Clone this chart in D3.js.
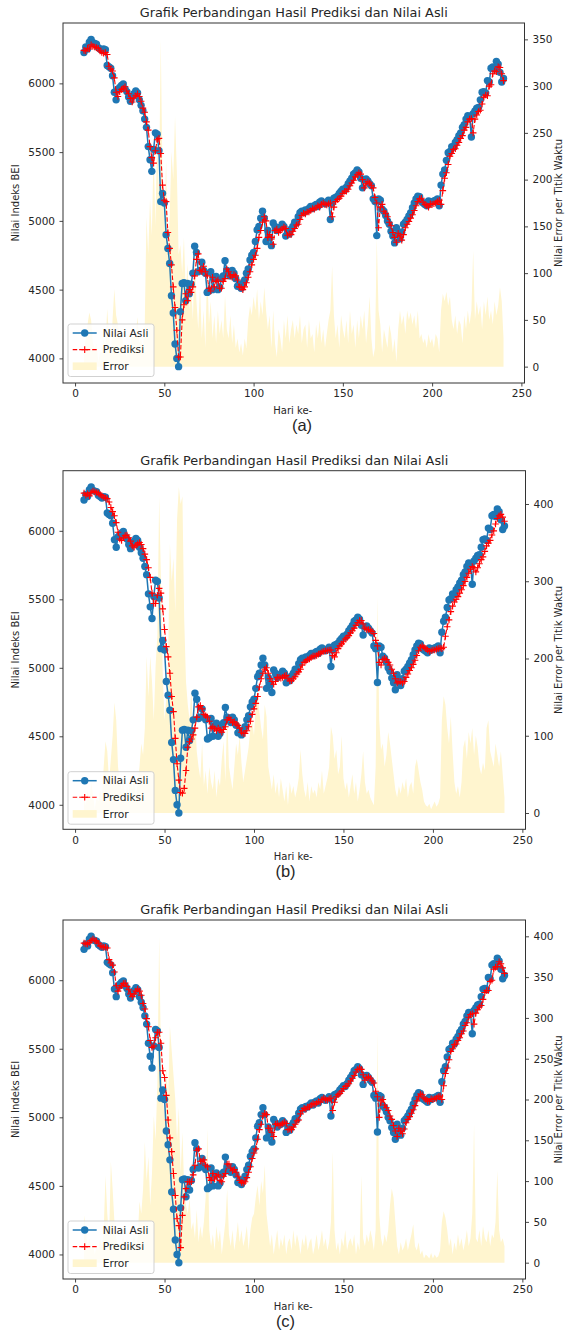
<!DOCTYPE html>
<html>
<head>
<meta charset="utf-8">
<script src="https://cdn.jsdelivr.net/npm/d3@7"></script>
<style>
  body { margin: 0; background: #fff; }
  text { font-family: "DejaVu Sans", sans-serif; fill: #262626; }
</style>
</head>
<body>
<svg id="chart" width="565" height="1335"></svg>
<script>
// hari ke- (day index on the x axis)
const hari = d3.range(5, 241);

// nilai asli (same in all three panels), days 5..240
const nilaiAsli = [
  6225, 6265, 6250, 6300, 6320, 6295, 6290, 6285, 6260, 6250,
  6240, 6250, 6245, 6130, 6120, 6110, 6055, 5935, 5880, 5955,
  5970, 5985, 5995, 5960, 5940, 5900, 5870, 5905, 5925, 5945,
  5930, 5880, 5840, 5800, 5740, 5680, 5540, 5445, 5360, 5520,
  5640, 5630, 5510, 5140, 5200, 5130, 4900, 4800, 4690, 4455,
  4330, 4105, 4000, 3940, 4340, 4545, 4550, 4420, 4545, 4470,
  4540, 4620, 4815, 4770, 4630, 4640, 4700, 4640, 4620, 4480,
  4490, 4630, 4500, 4580, 4595, 4500, 4520, 4580, 4600, 4710,
  4640, 4620, 4600, 4640, 4620, 4580, 4525, 4540, 4510, 4545,
  4570, 4620, 4650, 4715, 4750, 4770, 4850, 4935, 4960, 5020,
  5070, 5020, 4850, 4930, 4880, 4820, 4985, 4960, 4930, 4950,
  4950, 4975, 4960, 4890, 4920, 4905, 4940, 4960, 4990, 4985,
  5030, 5060, 5070, 5060, 5080, 5075, 5090, 5105, 5090, 5110,
  5120, 5105, 5135, 5145, 5130, 5125, 5135, 5150, 5010, 5130,
  5165, 5170, 5180, 5200, 5215, 5230, 5225, 5245, 5270, 5290,
  5310, 5340, 5350, 5370, 5355, 5310, 5240, 5300, 5305, 5290,
  5270, 5255, 5160, 5140, 4893, 5160, 5150, 5085, 5070, 5040,
  5000, 4975, 4925, 4890, 4840, 4950, 4900, 4870, 4920, 4975,
  4990, 5010, 5035, 5060, 5095, 5130, 5160, 5180, 5175, 5140,
  5130, 5120, 5110, 5145, 5130, 5140, 5145, 5150, 5160, 5110,
  5260, 5340, 5370, 5440, 5495, 5505, 5540, 5535, 5570, 5590,
  5620, 5640, 5680, 5700, 5740, 5765, 5760, 5610, 5780, 5800,
  5820, 5825, 5880, 5935, 5940, 5930, 6020, 6010, 6110, 6120,
  6105, 6160, 6140, 6080, 6010, 6035
];

const prediksiA = [
  6240, 6235, 6255, 6250, 6280, 6270, 6265, 6260, 6255, 6235,
  6225, 6220, 6225, 6210, 6125, 6105, 6090, 6040, 5935, 5905,
  5940, 5955, 5965, 5975, 5945, 5925, 5890, 5865, 5895, 5910,
  5925, 5905, 5870, 5820, 5790, 5720, 5660, 5540, 5460, 5420,
  5510, 5590, 5600, 5490, 5260, 5150, 5140, 4915, 4800, 4680,
  4520, 4370, 4205, 4010, 4010, 4280, 4390, 4470, 4420, 4500,
  4480, 4520, 4600, 4720, 4760, 4640, 4630, 4670, 4630, 4600,
  4510, 4490, 4590, 4520, 4560, 4570, 4510, 4510, 4560, 4580,
  4650, 4630, 4600, 4590, 4610, 4600, 4570, 4520, 4515, 4500,
  4520, 4550, 4590, 4630, 4680, 4720, 4750, 4800, 4880, 4930,
  4990, 5030, 5000, 4880, 4900, 4880, 4830, 4930, 4940, 4915,
  4930, 4940, 4955, 4945, 4895, 4905, 4900, 4925, 4945, 4970,
  4975, 5010, 5040, 5055, 5050, 5065, 5065, 5075, 5090, 5085,
  5095, 5110, 5100, 5120, 5130, 5120, 5115, 5125, 5130, 5030,
  5100, 5140, 5155, 5165, 5180, 5200, 5215, 5215, 5230, 5255,
  5275, 5295, 5320, 5335, 5350, 5340, 5300, 5240, 5270, 5285,
  5275, 5255, 5240, 5170, 5130, 4950, 5100, 5120, 5070, 5055,
  5030, 4990, 4965, 4915, 4880, 4845, 4910, 4890, 4860, 4900,
  4950, 4975, 4995, 5020, 5045, 5075, 5110, 5140, 5160, 5165,
  5135, 5120, 5110, 5100, 5125, 5120, 5125, 5130, 5140, 5150,
  5120, 5220, 5310, 5350, 5410, 5470, 5490, 5520, 5525, 5550,
  5570, 5600, 5620, 5660, 5680, 5720, 5740, 5745, 5640, 5740,
  5770, 5795, 5805, 5850, 5900, 5915, 5910, 5980, 5990, 6070,
  6090, 6085, 6120, 6115, 6070, 6020
];

const prediksiB = [
  6275, 6260, 6270, 6255, 6280, 6290, 6285, 6280, 6275, 6265,
  6255, 6245, 6240, 6235, 6210, 6170, 6140, 6110, 6060, 5990,
  5940, 5930, 5950, 5965, 5970, 5950, 5925, 5890, 5880, 5895,
  5905, 5915, 5900, 5870, 5830, 5790, 5730, 5660, 5545, 5470,
  5470, 5530, 5580, 5545, 5430, 5280, 5155, 5080, 4960, 4790,
  4680, 4485, 4300, 4180, 4090, 4085, 4120, 4250, 4420, 4460,
  4480, 4510, 4560, 4640, 4715, 4725, 4700, 4660, 4650, 4640,
  4610, 4560, 4570, 4555, 4540, 4560, 4545, 4530, 4550, 4570,
  4620, 4635, 4620, 4600, 4605, 4590, 4580, 4560, 4530, 4520,
  4520, 4540, 4570, 4610, 4660, 4700, 4740, 4790, 4860, 4920,
  4960, 4990, 5000, 4960, 4920, 4900, 4880, 4900, 4930, 4930,
  4925, 4930, 4940, 4945, 4920, 4905, 4905, 4920, 4935, 4955,
  4970, 4990, 5020, 5040, 5050, 5060, 5065, 5075, 5085, 5085,
  5090, 5100, 5105, 5115, 5120, 5125, 5125, 5130, 5130, 5090,
  5080, 5110, 5140, 5160, 5175, 5190, 5210, 5220, 5235, 5255,
  5270, 5290, 5310, 5330, 5345, 5345, 5320, 5290, 5280, 5280,
  5275, 5265, 5250, 5200, 5160, 5040, 5020, 5060, 5070, 5060,
  5040, 5020, 4990, 4960, 4920, 4890, 4900, 4900, 4890, 4900,
  4930, 4955, 4980, 5000, 5025, 5055, 5090, 5125, 5150, 5160,
  5150, 5140, 5130, 5120, 5125, 5130, 5130, 5135, 5140, 5145,
  5140, 5150, 5230, 5300, 5350, 5410, 5450, 5480, 5500, 5520,
  5545, 5570, 5600, 5630, 5660, 5690, 5720, 5740, 5730, 5700,
  5730, 5760, 5790, 5810, 5850, 5890, 5910, 5930, 5970, 6000,
  6050, 6090, 6110, 6120, 6100, 6070
];

const prediksiC = [
  6270, 6265, 6265, 6275, 6290, 6300, 6290, 6285, 6270, 6250,
  6245, 6240, 6240, 6235, 6150, 6125, 6110, 6060, 5960, 5920,
  5945, 5960, 5975, 5980, 5955, 5930, 5900, 5880, 5900, 5920,
  5935, 5920, 5890, 5830, 5790, 5720, 5660, 5560, 5510, 5520,
  5580, 5620, 5620, 5540, 5340, 5290, 5160, 4980, 4850, 4750,
  4590, 4430, 4260, 4210, 4050, 4285, 4420, 4480, 4530, 4530,
  4530, 4580, 4650, 4760, 4770, 4680, 4680, 4690, 4650, 4640,
  4560, 4540, 4590, 4550, 4570, 4580, 4540, 4530, 4570, 4590,
  4660, 4660, 4630, 4610, 4620, 4600, 4570, 4540, 4525, 4520,
  4530, 4560, 4600, 4640, 4700, 4740, 4770, 4840, 4910, 4950,
  5010, 5030, 5020, 4920, 4920, 4890, 4860, 4950, 4955, 4940,
  4945, 4955, 4965, 4955, 4910, 4915, 4910, 4930, 4950, 4975,
  4980, 5025, 5050, 5065, 5060, 5075, 5075, 5090, 5100, 5095,
  5105, 5115, 5110, 5130, 5140, 5130, 5125, 5135, 5140, 5050,
  5110, 5150, 5165, 5175, 5190, 5210, 5225, 5230, 5245, 5265,
  5285, 5305, 5330, 5350, 5360, 5350, 5310, 5270, 5290, 5295,
  5285, 5265, 5250, 5190, 5150, 5000, 5120, 5130, 5090, 5070,
  5050, 5010, 4985, 4940, 4900, 4860, 4920, 4900, 4880, 4915,
  4960, 4985, 5005, 5030, 5055, 5085, 5120, 5150, 5170, 5165,
  5140, 5130, 5120, 5115, 5135, 5130, 5135, 5140, 5150, 5155,
  5130, 5230, 5320, 5360, 5420, 5480, 5500, 5530, 5535, 5560,
  5580, 5610, 5630, 5670, 5690, 5730, 5750, 5755, 5680, 5760,
  5785, 5805, 5815, 5860, 5910, 5925, 5925, 5990, 6000, 6080,
  6095, 6100, 6135, 6120, 6090, 6050
];

// nilai error per titik waktu (right axis)
const errorA = [
  15, 30, 45, 58, 50, 25, 20, 25, 5, 15,
  15, 30, 20, 62, 35, 10, 50, 83, 55, 45,
  30, 35, 25, 15, 10, 25, 20, 40, 30, 35,
  53, 25, 30, 20, 40, 160, 120, 180, 140, 230,
  150, 250, 180, 350, 200, 150, 220, 120, 160, 230,
  200, 268, 210, 120, 130, 100, 138, 80, 110, 60,
  90, 50, 120, 70, 40, 85, 30, 60, 20, 110,
  45, 70, 30, 55, 25, 60, 35, 50, 30, 76,
  40, 30, 55, 25, 45, 20, 30, 15, 25, 12,
  30, 20, 50, 65, 55, 75, 60, 83, 50, 70,
  55, 85, 60, 40, 55, 20, 60, 25, 10, 40,
  30, 15, 50, 30, 55, 25, 40, 50, 30, 45,
  35, 55, 25, 40, 45, 20, 50, 30, 35, 15,
  45, 30, 50, 25, 40, 20, 35, 50, 60, 108,
  55, 30, 45, 20, 55, 40, 30, 50, 25, 60,
  35, 45, 20, 50, 30, 55, 40, 60, 25, 45,
  75, 30, 10, 20, 137, 60, 45, 15, 40, 30,
  20, 45, 35, 15, 30, 5, 40, 60, 45, 55,
  35, 60, 50, 58, 45, 55, 40, 60, 30, 35,
  25, 30, 20, 35, 25, 30, 20, 35, 30, 15,
  60, 78, 70, 80, 65, 75, 50, 40, 55, 35,
  50, 45, 25, 55, 40, 60, 45, 60, 124, 50,
  70, 55, 65, 40, 70, 55, 75, 50, 60, 45,
  70, 55, 65, 85, 70, 30
];

const errorB = [
  20, 10, 30, 15, 40, 25, 5, 20, 15, 30,
  20, 60, 93, 80, 40, 70, 100, 143, 120, 60,
  40, 30, 45, 20, 35, 25, 50, 30, 45, 20,
  40, 60, 90, 75, 110, 203, 150, 203, 170, 120,
  190, 230, 410, 300, 180, 120, 150, 200, 349, 300,
  330, 260, 380, 422, 400, 410, 250, 170, 140, 120,
  160, 100, 130, 80, 60, 45, 90, 35, 55, 25,
  60, 40, 30, 55, 20, 45, 35, 70, 93, 40,
  130, 60, 45, 30, 60, 90, 75, 100, 65, 40,
  55, 70, 85, 110, 120, 100, 140, 160, 130, 110,
  95, 140, 125, 60, 45, 30, 50, 25, 40, 20,
  45, 30, 15, 35, 10, 40, 25, 35, 20, 30,
  45, 82, 50, 30, 20, 40, 15, 35, 25, 30,
  20, 40, 30, 55, 25, 35, 45, 60, 112, 100,
  70, 82, 50, 60, 100, 45, 30, 40, 20, 35,
  50, 25, 40, 15, 30, 50, 80, 40, 25, 30,
  20, 15, 10, 60, 280, 120, 82, 90, 60, 75,
  105, 90, 70, 50, 30, 20, 35, 25, 40, 30,
  45, 20, 35, 40, 25, 60, 70, 55, 40, 30,
  15, 10, 8, 12, 5, 10, 15, 8, 12, 20,
  120, 151, 140, 110, 90, 125, 80, 40, 25, 35,
  20, 40, 85, 95, 70, 105, 90, 110, 75, 100,
  85, 60, 50, 65, 55, 110, 120, 80, 70, 60,
  90, 75, 60, 80, 50, 20
];

const errorC = [
  58, 40, 20, 30, 15, 25, 10, 20, 15, 30,
  20, 40, 107, 60, 30, 124, 90, 50, 30, 20,
  15, 25, 35, 10, 30, 20, 15, 25, 35, 20,
  30, 75, 60, 90, 148, 100, 130, 70, 110, 180,
  150, 220, 400, 250, 200, 180, 240, 200, 290, 260,
  230, 200, 150, 190, 110, 160, 90, 70, 60, 80,
  40, 50, 30, 65, 25, 45, 30, 50, 80, 164,
  40, 20, 35, 15, 45, 25, 40, 10, 30, 50,
  90, 35, 20, 40, 15, 30, 50, 25, 40, 20,
  30, 45, 15, 40, 55, 60, 80, 95, 70, 100,
  85, 120, 60, 40, 20, 35, 10, 25, 40, 15,
  30, 20, 35, 10, 25, 30, 15, 40, 20, 35,
  25, 10, 30, 20, 35, 15, 25, 30, 10, 20,
  35, 15, 25, 40, 20, 30, 15, 25, 50, 136,
  40, 15, 25, 10, 30, 20, 40, 15, 25, 30,
  20, 35, 10, 25, 15, 107, 30, 20, 35, 25,
  40, 30, 15, 40, 282, 60, 30, 20, 35, 25,
  40, 70, 91, 80, 50, 20, 10, 25, 15, 20,
  30, 15, 25, 35, 47, 20, 15, 25, 10, 15,
  5, 10, 8, 5, 12, 5, 10, 6, 8, 15,
  50, 63, 55, 40, 20, 30, 10, 25, 15, 35,
  20, 30, 15, 25, 40, 20, 30, 60, 170, 30,
  25, 40, 20, 45, 30, 25, 40, 20, 35, 30,
  50, 113, 40, 25, 30, 20
];

// tick labels
const xTicks = [0, 50, 100, 150, 200, 250];
const yTicks = [4000, 4500, 5000, 5500, 6000];
const errTicksA = [0, 50, 100, 150, 200, 250, 300, 350];
const errTicksB = [0, 100, 200, 300, 400];
const errTicksC = [0, 50, 100, 150, 200, 250, 300, 350, 400];

const judul = "Grafik Perbandingan Hasil Prediksi dan Nilai Asli";
const legendLabels = ["Nilai Asli", "Prediksi", "Error"];

const BLUE = "#1f77b4";
const RED = "#ff0000";
const ERR_FILL = "#fff5cf";
const LEFT = 63;

const panels = [
  { pred: prediksiA, err: errorA, errTicks: errTicksA, caption: "(a)", top: 23, bottom: 383, right: 524.5, capX: 302 },
  { pred: prediksiB, err: errorB, errTicks: errTicksB, caption: "(b)", top: 470.7, bottom: 829.3, right: 525.5, capX: 285.5 },
  { pred: prediksiC, err: errorC, errTicks: errTicksC, caption: "(c)", top: 920, bottom: 1279, right: 525.5, capX: 285.5 }
];

const svg = d3.select("#chart");
svg.append("rect").attr("width", 565).attr("height", 1335).attr("fill", "#fff");

panels.forEach(drawPanel);

// matplotlib-like 5% autoscale margin
function pad(ext)
{
  let m = (ext[1] - ext[0]) * 0.05;
  return [ext[0] - m, ext[1] + m];
}

function styleAxis(sel)
{
  sel.select(".domain").remove();
  sel.selectAll(".tick line").attr("stroke", "#333").attr("stroke-width", 0.9);
  sel.selectAll(".tick text")
    .style("font-family", "DejaVu Sans, sans-serif")
    .style("font-size", "10.5px")
    .attr("fill", "#262626");
}

function drawPanel(p)
{
  let g = svg.append("g");
  let midX = (LEFT + p.right) / 2;
  let midY = (p.top + p.bottom) / 2;

  let x = d3.scaleLinear().domain(pad(d3.extent(hari))).range([LEFT, p.right]);
  let y = d3.scaleLinear().domain(pad(d3.extent(nilaiAsli.concat(p.pred)))).range([p.bottom, p.top]);
  let e = d3.scaleLinear().domain(pad([0, d3.max(p.err)])).range([p.bottom, p.top]);

  //error area (twin axis)
  let area = d3.area()
    .x((d, i) => x(hari[i]))
    .y0(e(0))
    .y1(d => e(d));

  g.append("path")
    .datum(p.err)
    .attr("d", area)
    .attr("fill", ERR_FILL);

  //nilai asli
  let line = d3.line().x((d, i) => x(hari[i])).y(d => y(d));

  g.append("path")
    .datum(nilaiAsli)
    .attr("d", line)
    .attr("fill", "none")
    .attr("stroke", BLUE)
    .attr("stroke-width", 1.5);

  g.selectAll()
    .data(nilaiAsli)
    .enter()
    .append("circle")
    .attr("cx", (d, i) => x(hari[i]))
    .attr("cy", d => y(d))
    .attr("r", 3.7)
    .attr("fill", BLUE);

  //prediksi
  g.append("path")
    .datum(p.pred)
    .attr("d", line)
    .attr("fill", "none")
    .attr("stroke", RED)
    .attr("stroke-width", 1.1)
    .attr("stroke-dasharray", "4.5,2");

  g.selectAll()
    .data(p.pred)
    .enter()
    .append("path")
    .attr("transform", (d, i) => `translate(${x(hari[i])},${y(d)})`)
    .attr("d", "M-3.3,0H3.3M0,-3.3V3.3")
    .attr("stroke", RED)
    .attr("stroke-width", 1.1);

  //axes
  g.append("g")
    .attr("transform", `translate(0,${p.bottom})`)
    .call(d3.axisBottom(x).tickValues(xTicks).tickSize(3.5).tickPadding(3.5))
    .call(styleAxis);

  g.append("g")
    .attr("transform", `translate(${LEFT},0)`)
    .call(d3.axisLeft(y).tickValues(yTicks).tickFormat(d3.format("d")).tickSize(3.5).tickPadding(4.5))
    .call(styleAxis);

  g.append("g")
    .attr("transform", `translate(${p.right},0)`)
    .call(d3.axisRight(e).tickValues(p.errTicks).tickSize(3.5).tickPadding(4.5))
    .call(styleAxis);

  //frame
  g.append("rect")
    .attr("x", LEFT)
    .attr("y", p.top)
    .attr("width", p.right - LEFT)
    .attr("height", p.bottom - p.top)
    .attr("fill", "none")
    .attr("stroke", "#333")
    .attr("stroke-width", 1);

  //texts
  g.append("text")
    .attr("x", midX)
    .attr("y", p.top - 6)
    .attr("text-anchor", "middle")
    .style("font-size", "12.85px")
    .text(judul);

  g.append("text")
    .attr("x", midX - 1)
    .attr("y", p.bottom + 31)
    .attr("text-anchor", "middle")
    .style("font-size", "10px")
    .text("Hari ke-");

  g.append("text")
    .attr("transform", `translate(19,${midY}) rotate(-90)`)
    .attr("text-anchor", "middle")
    .style("font-size", "10px")
    .text("Nilai Indeks BEI");

  g.append("text")
    .attr("transform", `translate(561.5,${midY}) rotate(-90)`)
    .attr("text-anchor", "middle")
    .style("font-size", "10px")
    .text("Nilai Error per Titik Waktu");

  g.append("text")
    .attr("x", p.capX)
    .attr("y", p.bottom + 48)
    .attr("text-anchor", "middle")
    .style("font-family", "Liberation Sans, sans-serif")
    .style("font-size", "16.5px")
    .attr("fill", "#111")
    .text(p.caption);

  addLegend(g, p.top + 301);
}

function addLegend(g, top)
{
  let lg = g.append("g").attr("transform", `translate(68,${top})`);

  lg.append("rect")
    .attr("width", 86)
    .attr("height", 52.5)
    .attr("rx", 2.5)
    .attr("fill", "#fff")
    .attr("fill-opacity", 0.8)
    .attr("stroke", "#cccccc")
    .attr("stroke-width", 0.9);

  let rows = lg.selectAll()
    .data(legendLabels)
    .enter()
    .append("g")
    .attr("transform", (d, i) => `translate(0,${9 + i * 16.6})`);

  rows.append("text")
    .attr("x", 34.7)
    .attr("y", 0)
    .attr("dy", "0.35em")
    .style("font-size", "10.7px")
    .text(d => d);

  let asli = lg.select("g");
  asli.append("line").attr("x1", 4.7).attr("x2", 28.7).attr("stroke", BLUE).attr("stroke-width", 1.5);
  asli.append("circle").attr("cx", 16.7).attr("r", 3.7).attr("fill", BLUE);

  let pred = d3.select(rows.nodes()[1]);
  pred.append("line").attr("x1", 4.7).attr("x2", 28.7).attr("stroke", RED).attr("stroke-width", 1.1).attr("stroke-dasharray", "4.5,2");
  pred.append("path").attr("transform", "translate(16.7,0)").attr("d", "M-3.3,0H3.3M0,-3.3V3.3").attr("stroke", RED).attr("stroke-width", 1.1);

  d3.select(rows.nodes()[2])
    .append("rect")
    .attr("x", 4.7)
    .attr("y", -3.8)
    .attr("width", 24)
    .attr("height", 7.6)
    .attr("fill", ERR_FILL);
}
</script>
</body>
</html>
